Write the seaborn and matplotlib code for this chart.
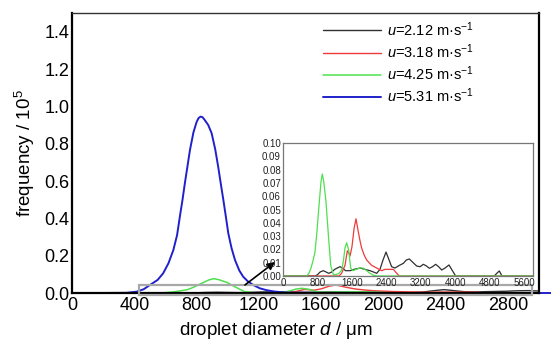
import matplotlib
matplotlib.use("Agg")
import matplotlib.pyplot as plt
import seaborn as sns
import pandas as pd
from matplotlib.patches import Rectangle
from matplotlib.ticker import MultipleLocator

# ---------------- data ----------------
series_labels = ["$u$=2.12 m·s$^{-1}$", "$u$=3.18 m·s$^{-1}$",
                 "$u$=4.25 m·s$^{-1}$", "$u$=5.31 m·s$^{-1}$"]
series_colors = ["#303030", "#ee3a3a", "#4ee04e", "#2020cc"]

d_212 = [0, 750, 800, 860, 936, 1000, 1060, 1130, 1200, 1260, 1322, 1380, 1450, 1555,
         1650, 1786, 1900, 2018, 2100, 2173, 2250, 2320, 2390, 2450, 2520, 2598, 2700,
         2791, 2860, 2931, 3020, 3101, 3180, 3256, 3330, 3395, 3470, 3542, 3610, 3681,
         3760, 3851, 3930, 4006, 4900, 4960, 5018, 5080, 5800]
f_212 = [0, 0, 0.001, 0.003, 0.004, 0.003, 0.002, 0.003, 0.005, 0.006, 0.007, 0.006,
         0.004, 0.004, 0.005, 0.006, 0.005, 0.004, 0.003, 0.002, 0.005, 0.012, 0.018,
         0.013, 0.007, 0.006, 0.008, 0.0095, 0.012, 0.0128, 0.010, 0.0075, 0.007, 0.0088,
         0.0075, 0.0058, 0.007, 0.0088, 0.007, 0.0045, 0.006, 0.0083, 0.004, 0, 0, 0.002,
         0.0038, 0, 0]

d_318 = [0, 1300, 1360, 1438, 1493, 1530, 1555, 1600, 1650, 1694, 1748, 1790, 1825,
         1880, 1941, 2057, 2173, 2290, 2366, 2460, 2560, 2640, 2700, 5800]
f_318 = [0, 0, 0.002, 0.008, 0.019, 0.017, 0.015, 0.022, 0.036, 0.043, 0.033, 0.026,
         0.021, 0.016, 0.012, 0.008, 0.006, 0.004, 0.005, 0.005, 0.005, 0.002, 0, 0]

d_425 = [0, 550, 600, 650, 700, 742, 781, 843, 882, 912, 945, 997, 1052, 1107, 1168,
         1230, 1300, 1361, 1400, 1438, 1477, 1524, 1570, 1620, 1700, 1780, 1860, 1940,
         2018, 2100, 2180, 5800]
f_425 = [0, 0, 0.002, 0.006, 0.012, 0.018, 0.031, 0.056, 0.071, 0.0767, 0.071, 0.056,
         0.031, 0.008, 0.001, 0.001, 0.002, 0.0045, 0.011, 0.021, 0.025, 0.0196, 0.006,
         0.004, 0.005, 0.006, 0.006, 0.004, 0.002, 0.0005, 0, 0]

d_531 = [0, 200, 350, 415, 460, 501, 550, 586, 620, 651, 675, 693, 710, 725, 742, 758,
         780, 800, 813, 826, 838, 850, 875, 897, 920, 939, 955, 972, 990, 1004, 1025,
         1047, 1075, 1100, 1130, 1164, 1207, 1250, 1300, 1350, 1400, 1500, 1800, 2200,
         2600, 3000, 3100]
f_531 = [0, 0, 0.001, 0.007, 0.02, 0.043, 0.07, 0.106, 0.16, 0.23, 0.31, 0.41, 0.50,
         0.588, 0.68, 0.767, 0.86, 0.915, 0.937, 0.945, 0.942, 0.93, 0.90, 0.856, 0.77,
         0.677, 0.59, 0.50, 0.40, 0.32, 0.24, 0.177, 0.12, 0.087, 0.062, 0.043, 0.025,
         0.015, 0.008, 0.004, 0.002, 0.001, 0.0, 0.0, 0.0, 0.0, 0.0]

main_xticks = [0, 400, 800, 1200, 1600, 2000, 2400, 2800]
main_yticks = [0.0, 0.2, 0.4, 0.6, 0.8, 1.0, 1.2, 1.4]
inset_xticks = [0, 800, 1600, 2400, 3200, 4000, 4800, 5600]
inset_yticks = [0.00, 0.01, 0.02, 0.03, 0.04, 0.05, 0.06, 0.07, 0.08, 0.09, 0.10]

# ---------------- style ----------------
sns.set_theme(style="white")
FAM = ["Liberation Sans", "DejaVu Sans"]
plt.rcParams["font.family"] = FAM
plt.rcParams["mathtext.fontset"] = "custom"
plt.rcParams["mathtext.rm"] = "Liberation Sans"
plt.rcParams["mathtext.it"] = "Liberation Sans:italic"
plt.rcParams["mathtext.bf"] = "Liberation Sans:bold"

W, H = 551, 344
fig = plt.figure(figsize=(W / 100, H / 100), dpi=100)
fig.patch.set_facecolor("white")

def fx(px):
    return px / W

def fy(py):
    return 1 - py / H

ax = fig.add_axes([fx(72), fy(293), fx(539) - fx(72), fy(13) - fy(293)])
ax.set_facecolor("white")

data_sets = [(d_212, f_212), (d_318, f_318), (d_425, f_425), (d_531, f_531)]
widths = [1.0, 1.0, 1.1, 1.4]
for (dx, fv), lab, col, lw in zip(data_sets, series_labels, series_colors, widths):
    df = pd.DataFrame({"d": dx, "f": fv})
    sns.lineplot(data=df, x="d", y="f", ax=ax, color=col, lw=lw,
                 label=lab, estimator=None, sort=False)
ax.lines[-1].set_clip_on(False)

ax.set_xlim(0, 3000)
ax.set_ylim(0, 1.5)
ax.set_xticks(main_xticks)
ax.set_xticklabels([str(v) for v in main_xticks])
ax.xaxis.set_minor_locator(MultipleLocator(200))
ax.set_yticks(main_yticks)
ax.set_yticklabels([f"{v:.1f}" for v in main_yticks])
ax.yaxis.set_minor_locator(MultipleLocator(0.1))
ax.tick_params(axis="both", which="both", direction="in", colors="black",
               labelsize=13, top=False, right=False)
ax.tick_params(axis="x", which="major", length=5, width=1.4, pad=3)
ax.tick_params(axis="x", which="minor", length=5, width=1.4)
ax.tick_params(axis="y", which="major", length=10, width=1.2, pad=2)
ax.tick_params(axis="y", which="minor", length=6, width=1.2)
for s in ["left", "bottom", "right"]:
    ax.spines[s].set_color("black")
    ax.spines[s].set_linewidth(1.6)
ax.spines["top"].set_color("#333333")
ax.spines["top"].set_linewidth(1.0)

ax.set_xlabel("droplet diameter $d$ / μm", fontsize=13.5, color="black")
ax.set_ylabel("frequency / 10$^{5}$", fontsize=13.5, color="black")
ax.xaxis.set_label_coords(0.437, -0.095)
ax.yaxis.set_label_coords(-0.075, 0.5)

leg = ax.legend(loc="upper left", bbox_to_anchor=(fx(323), fy(20)),
                bbox_transform=fig.transFigure, frameon=False, fontsize=10.5,
                handlelength=4.0, handletextpad=0.4, labelspacing=0.25,
                borderpad=0, borderaxespad=0)
for t in leg.get_texts():
    t.set_color("black")

# zoom box and arrow
rect = Rectangle((430, -0.011), 2525, 0.054, fill=False, edgecolor="#a8a8a8",
                 lw=1.6, clip_on=False, zorder=5)
ax.add_patch(rect)
ax.annotate("", xy=(1304, 0.166), xytext=(1111, 0.043),
            arrowprops=dict(arrowstyle="-|>", color="black", lw=1.2,
                            mutation_scale=11, shrinkA=0, shrinkB=0), zorder=6)

# ---------------- inset ----------------
axi = fig.add_axes([fx(283), fy(276), fx(533) - fx(283), fy(143) - fy(276)])
axi.set_facecolor("white")
for (dx, fv), lab, col in zip(data_sets[:3], series_labels[:3], series_colors[:3]):
    df = pd.DataFrame({"d": dx, "f": fv})
    sns.lineplot(data=df, x="d", y="f", ax=axi, color=col, lw=0.9,
                 estimator=None, sort=False, legend=False)
axi.set_xlim(0, 5800)
axi.set_ylim(0, 0.10)
axi.set_xticks(inset_xticks)
axi.set_xticklabels([str(v) for v in inset_xticks])
axi.xaxis.set_minor_locator(MultipleLocator(400))
axi.set_yticks(inset_yticks)
axi.set_yticklabels([f"{v:.2f}" for v in inset_yticks])
axi.tick_params(axis="both", which="both", direction="in", labelsize=7,
                colors="#222222", top=False, right=False, pad=1.5)
axi.tick_params(axis="both", which="major", length=3, width=0.8)
axi.tick_params(axis="both", which="minor", length=2, width=0.8)
axi.set_xlabel("")
axi.set_ylabel("")
for s in axi.spines.values():
    s.set_color("#777777")
    s.set_linewidth(0.9)

fig.savefig("out.png", dpi=100, facecolor="white")
